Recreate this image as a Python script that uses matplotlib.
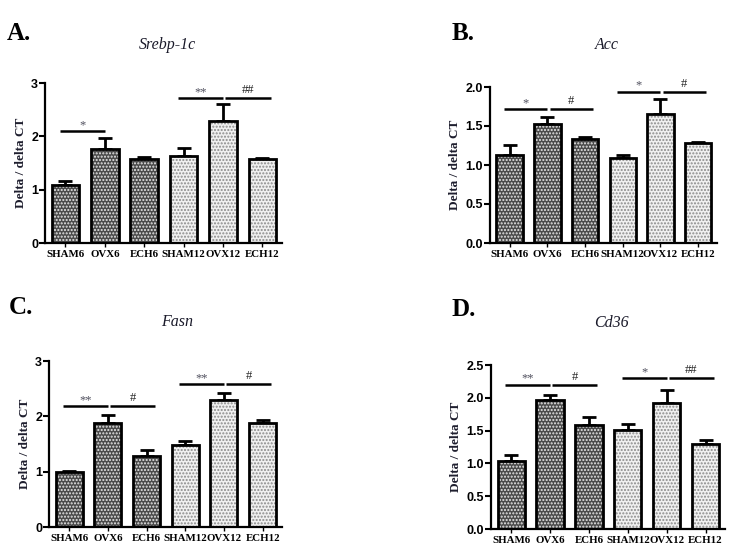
import matplotlib
matplotlib.use("Agg")
import matplotlib.pyplot as plt

groups = ['SHAM6', 'OVX6', 'ECH6', 'SHAM12', 'OVX12', 'ECH12']

srebp_mean = [1.09, 1.76, 1.57, 1.64, 2.29, 1.57]
srebp_sem = [0.07, 0.20, 0.05, 0.15, 0.31, 0.02]
acc_mean = [1.13, 1.53, 1.33, 1.09, 1.65, 1.28]
acc_sem = [0.13, 0.08, 0.03, 0.04, 0.20, 0.02]
fasn_mean = [1.00, 1.88, 1.29, 1.48, 2.29, 1.88]
fasn_sem = [0.01, 0.15, 0.10, 0.08, 0.14, 0.05]
cd36_mean = [1.03, 1.97, 1.59, 1.51, 1.92, 1.30]
cd36_sem = [0.10, 0.07, 0.12, 0.09, 0.20, 0.05]

# Signifikanzen: (Gruppe a, Gruppe b, Hoehe, Text)
srebp_sig = [(0, 1, 2.10, '*'), (3, 4, 2.72, '**'), (4, 5, 2.72, '##')]
acc_sig = [(0, 1, 1.72, '*'), (1, 2, 1.72, '#'), (3, 4, 1.94, '*'), (4, 5, 1.94, '#')]
fasn_sig = [(0, 1, 2.18, '**'), (1, 2, 2.18, '#'), (3, 4, 2.58, '**'), (4, 5, 2.58, '#')]
cd36_sig = [(0, 1, 2.20, '**'), (1, 2, 2.20, '#'), (3, 4, 2.30, '*'), (4, 5, 2.30, '##')]

srebp_ticks = [0, 1, 2, 3]
acc_ticks = [0.0, 0.5, 1.0, 1.5, 2.0]
fasn_ticks = [0, 1, 2, 3]
cd36_ticks = [0.0, 0.5, 1.0, 1.5, 2.0, 2.5]

SERIF = 'Liberation Serif'
SANS = 'Liberation Sans'


def draw_panel(fig, rect, letter, letter_xy, title, title_xy,
               means, sems, sigs, yticks, fmt):
    ax = fig.add_axes(rect)
    x = list(range(len(groups)))
    faces = ['#4a4a4a'] * 3 + ['#f0f0f0'] * 3
    hatchc = ['#e8e8e8'] * 3 + ['#8a8a8a'] * 3

    # Fuellung mit Punktmuster
    for xi, m, fc, hc in zip(x, means, faces, hatchc):
        ax.bar(xi, m, width=0.7, color=fc, edgecolor=hc, hatch='.....',
               linewidth=0, zorder=2)
    # Umriss
    ax.bar(x, means, width=0.7, fill=False, edgecolor='black',
           linewidth=2.0, zorder=3)
    ax.errorbar(x, means, yerr=[[0] * len(sems), sems], fmt='none',
                ecolor='black', elinewidth=2.0, capsize=5, capthick=2.0,
                zorder=1)

    for a, b, y, txt in sigs:
        off = -0.15 if a % 3 == 0 else 0.06
        x0, x1 = a + off, b + off + 0.15
        ax.plot([x0, x1], [y, y], color='black', lw=1.8, zorder=4,
                solid_capstyle='butt')
        col = '#50505e' if '*' in txt else '#222222'
        dy = 0.0 if '*' in txt else 0.012
        ax.text((x0 + x1) / 2, y + dy * yticks[-1], txt, ha='center',
                va='bottom', fontsize=9, color=col, family=SERIF)

    ax.set_xlim(-0.52, 5.5)
    ax.set_ylim(0, yticks[-1])
    ax.set_yticks(yticks)
    ax.set_yticklabels([fmt.format(t) for t in yticks], family=SANS,
                       fontweight='bold', fontsize=9)
    ax.set_xticks(x)
    ax.set_xticklabels(groups, family=SERIF, fontweight='bold', fontsize=7.8)
    ax.tick_params(axis='y', length=4, width=1.5, pad=1)
    ax.tick_params(axis='x', length=3, width=1.0, pad=2)
    for s in ['top', 'right']:
        ax.spines[s].set_visible(False)
    for s in ['left', 'bottom']:
        ax.spines[s].set_linewidth(1.6)
    ax.set_ylabel('Delta / delta CT', family=SERIF, fontweight='bold',
                  fontsize=9.5, color='#1e1e2e', labelpad=3)

    fig.text(letter_xy[0] / 737, 1 - letter_xy[1] / 550, letter,
             family=SERIF, fontweight='bold', fontsize=18, va='center')
    fig.text(title_xy[0] / 737, 1 - title_xy[1] / 550, title,
             family=SERIF, style='italic', fontsize=11.5, ha='center',
             va='center', color='#1a1a2a')
    return ax


fig = plt.figure(figsize=(7.37, 5.5), dpi=100)

draw_panel(fig, [45 / 737, 307 / 550, 237 / 737, 160 / 550], 'A.', (7, 34),
           'Srebp-1c', (167, 45), srebp_mean, srebp_sem, srebp_sig,
           srebp_ticks, '{:.0f}')
draw_panel(fig, [490 / 737, 307 / 550, 227 / 737, 156 / 550], 'B.', (452, 33),
           'Acc', (607, 45), acc_mean, acc_sem, acc_sig,
           acc_ticks, '{:.1f}')
draw_panel(fig, [49 / 737, 23 / 550, 233 / 737, 166 / 550], 'C.', (9, 308),
           'Fasn', (177, 322), fasn_mean, fasn_sem, fasn_sig,
           fasn_ticks, '{:.0f}')
draw_panel(fig, [491 / 737, 21 / 550, 234 / 737, 164 / 550], 'D.', (451, 310),
           'Cd36', (611, 323), cd36_mean, cd36_sem, cd36_sig,
           cd36_ticks, '{:.1f}')

fig.savefig('out.png', dpi=100)
